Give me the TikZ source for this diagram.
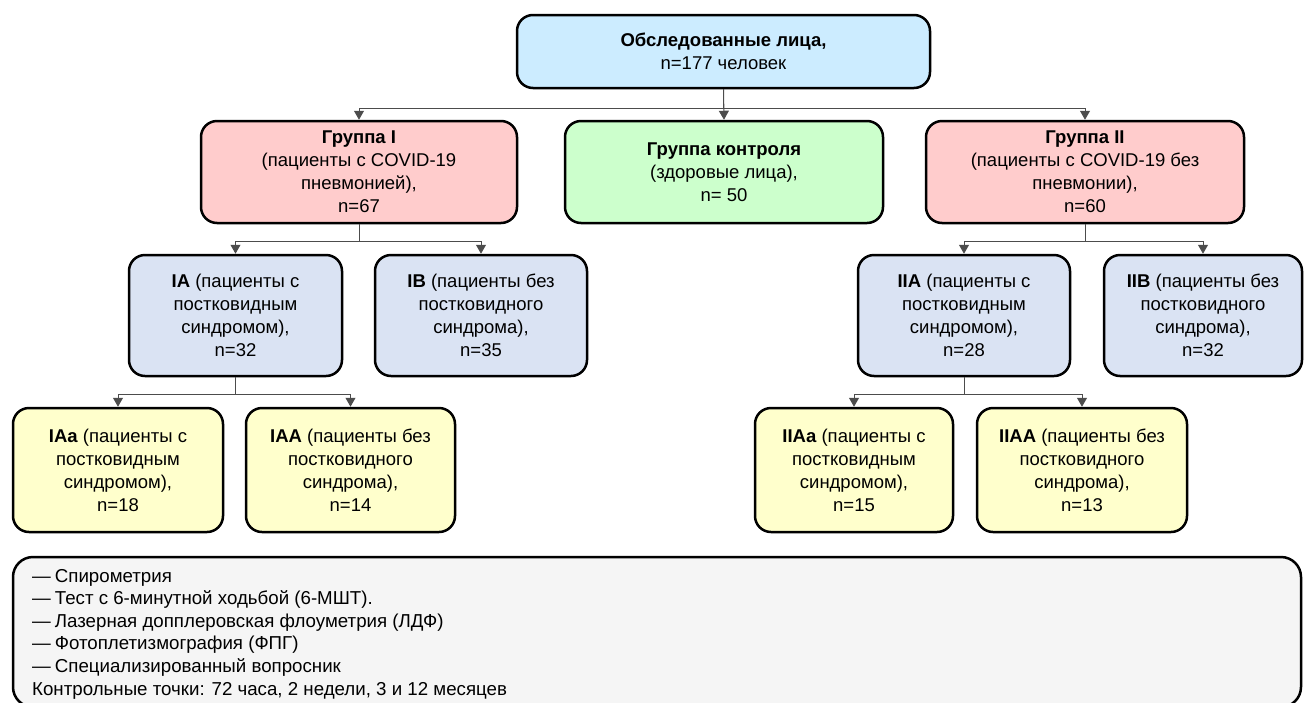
\documentclass[tikz,border=0pt]{standalone}
\usepackage{fontspec}
\setmainfont{Liberation Sans}
\usetikzlibrary{arrows.meta}

\definecolor{topblue}{RGB}{204,236,255}
\definecolor{grpred}{RGB}{255,204,204}
\definecolor{grpgreen}{RGB}{204,255,204}
\definecolor{subblue}{RGB}{218,227,243}
\definecolor{subyellow}{RGB}{255,255,204}
\definecolor{leggray}{RGB}{245,245,245}

\begin{document}
\begin{tikzpicture}[x=1pt, y=-1pt,
  box/.style = {draw, line width=2.5pt, rounded corners=16pt, align=center,
    inner sep=0pt, font=\fontsize{18.5}{23}\selectfont},
  arr/.style = {draw=black!70, line width=1pt, -{Triangle[length=9pt,width=10pt]}},
  legtext/.style = {anchor=base west, inner sep=0pt, font=\fontsize{18.7}{22}\selectfont}]
\useasboundingbox (0,0) rectangle (1304,702);
\clip (0,0) rectangle (1304,702);

% top level
\node [box, fill=topblue, minimum width=413pt, minimum height=73pt] (top) at (723.5,51.5)
  {\textbf{Обследованные лица,}\\n=177 человек};

% groups
\node [box, fill=grpred, minimum width=316pt, minimum height=102pt] (grpI) at (359,172)
  {\textbf{Группа I}\\(пациенты с COVID-19\\пневмонией),\\n=67};
\node [box, fill=grpgreen, minimum width=318pt, minimum height=102pt] (ctrl) at (724,172)
  {\textbf{Группа контроля}\\(здоровые лица),\\n= 50};
\node [box, fill=grpred, minimum width=318pt, minimum height=102pt] (grpII) at (1085,172)
  {\textbf{Группа II}\\(пациенты с COVID-19 без\\пневмонии),\\n=60};

% subgroups
\node [box, fill=subblue, minimum width=213pt, minimum height=121pt] (IA) at (235.5,315.5)
  {\textbf{IA} (пациенты с\\постковидным\\синдромом),\\n=32};
\node [box, fill=subblue, minimum width=212pt, minimum height=121pt] (IB) at (481,315.5)
  {\textbf{IB} (пациенты без\\постковидного\\синдрома),\\n=35};
\node [box, fill=subblue, minimum width=212pt, minimum height=121pt] (IIA) at (964,315.5)
  {\textbf{IIA} (пациенты с\\постковидным\\синдромом),\\n=28};
\node [box, fill=subblue, minimum width=198pt, minimum height=121pt] (IIB) at (1203,315.5)
  {\textbf{IIB} (пациенты без\\постковидного\\синдрома),\\n=32};

% third level
\node [box, fill=subyellow, minimum width=210pt, minimum height=124pt] (IAa) at (118,470)
  {\textbf{IAa} (пациенты с\\постковидным\\синдромом),\\n=18};
\node [box, fill=subyellow, minimum width=209pt, minimum height=124pt] (IAA) at (350.5,470)
  {\textbf{IAA} (пациенты без\\постковидного\\синдрома),\\n=14};
\node [box, fill=subyellow, minimum width=198pt, minimum height=124pt] (IIAa) at (854,470)
  {\textbf{IIAa} (пациенты с\\постковидным\\синдромом),\\n=15};
\node [box, fill=subyellow, minimum width=210pt, minimum height=124pt] (IIAA) at (1082,470)
  {\textbf{IIAA} (пациенты без\\постковидного\\синдрома),\\n=13};

% connectors
\draw [arr] (top.south) -- ++(0,19.5) -| (grpI.north);
\draw [arr] (top.south) -- (ctrl.north);
\draw [arr] (top.south) -- ++(0,19.5) -| (grpII.north);
\draw [arr] (grpI.south) -- ++(0,17) -| (IA.north);
\draw [arr] (grpI.south) -- ++(0,17) -| (IB.north);
\draw [arr] (grpII.south) -- ++(0,17) -| (IIA.north);
\draw [arr] (grpII.south) -- ++(0,17) -| (IIB.north);
\draw [arr] (IA.south) -- ++(0,17) -| (IAa.north);
\draw [arr] (IA.south) -- ++(0,17) -| (IAA.north);
\draw [arr] (IIA.south) -- ++(0,17) -| (IIAa.north);
\draw [arr] (IIA.south) -- ++(0,17) -| (IIAA.north);

% legend
\node [draw, line width=2.5pt, rounded corners=20pt, fill=leggray, inner sep=0pt,
  minimum width=1288pt, minimum height=150pt] (legend) at (657,632) {};
\foreach \txt [count=\i] in {{—\hspace{4pt}Спирометрия},
    {—\hspace{4pt}Тест с 6-минутной ходьбой (6-МШТ).},
    {—\hspace{4pt}Лазерная допплеровская флоуметрия (ЛДФ)},
    {—\hspace{4pt}Фотоплетизмография (ФПГ)},
    {—\hspace{4pt}Специализированный вопросник},
    {Контрольные точки: 72 часа, 2 недели, 3 и 12 месяцев}}
  \node [legtext] (leg\i) at (32,{582+22.6*(\i-1)}) {\txt};
\end{tikzpicture}
\end{document}
